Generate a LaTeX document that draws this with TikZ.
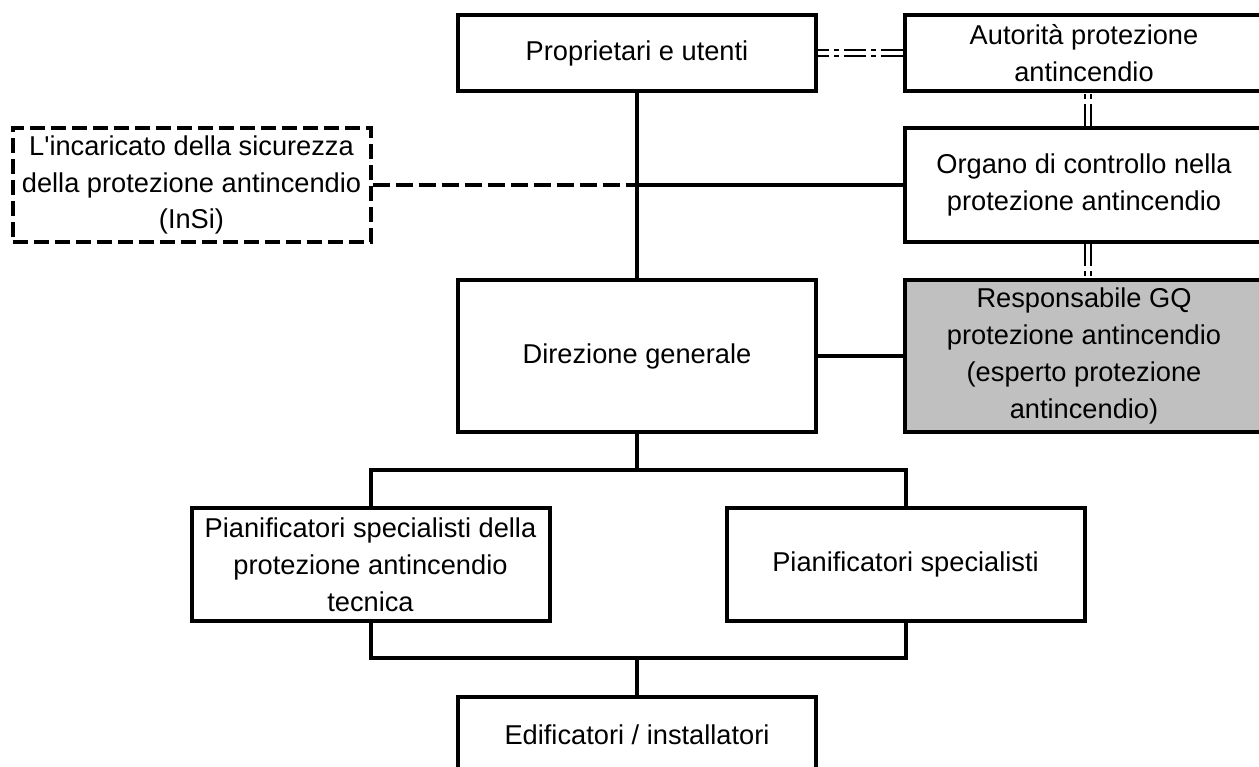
\documentclass[tikz,border=0pt]{standalone}
\usepackage{fontspec}
\setmainfont{Liberation Sans}
\usepackage{tikz}
\definecolor{qmgray}{RGB}{192,192,192}
\tikzset{
  box/.style={draw, line width=0.08cm, minimum width=7.16cm, inner sep=0pt,
    align=center, font=\fontsize{15.5pt}{21pt}\selectfont},
  dashbox/.style={box, dash pattern=on 0.3cm off 0.12cm},
  link/.style={line width=0.08cm},
  dashlink/.style={link, dash pattern=on 0.34cm off 0.12cm},
  dbllink/.style={double, double distance=0.07cm, line width=0.05cm,
    dash pattern=on 0.44cm off 0.1cm on 0.1cm off 0.1cm}
}

\begin{document}
\begin{tikzpicture}
    \clip (0,0) rectangle (25.18,-15.34);
    \node[box, minimum height=1.52cm] (prop) at (12.74,-1.06) {Proprietari e utenti};
    \node[box, minimum height=1.52cm] (auto) at (21.68,-1.06) {Autorità protezione\\antincendio};
    \node[box, minimum height=2.28cm] (organo) at (21.68,-3.70) {Organo di controllo nella\\protezione antincendio};
    \node[dashbox, minimum height=2.28cm] (insi) at (3.83,-3.70) {L\textquotesingle incaricato della sicurezza\\della protezione antincendio\\(InSi)};
    \node[box, minimum height=3.04cm] (direz) at (12.74,-7.12) {Direzione generale};
    \node[box, fill=qmgray, minimum height=3.04cm] (resp) at (21.68,-7.12) {Responsabile GQ\\protezione antincendio\\(esperto protezione\\antincendio)};
    \node[box, minimum height=2.26cm] (pianA) at (7.41,-11.29) {Pianificatori specialisti della\\protezione antincendio\\tecnica};
    \node[box, minimum height=2.26cm] (pianB) at (18.11,-11.29) {Pianificatori specialisti};
    \node[box, minimum height=1.52cm] (edif) at (12.74,-14.70) {Edificatori / installatori};
    \coordinate (mid) at (12.74,-3.70);
    \coordinate (split) at (12.74,-9.40);
    \coordinate (join) at (12.74,-13.16);
    \draw[link] (prop) to (direz);
    \draw[link] (organo.west) to (mid);
    \draw[dashlink] (insi.east) to (mid);
    \draw[link] (direz.east) to (resp.west);
    \draw[link] (direz) to (split);
    \draw[link] (pianA.north) |- (split) -| (pianB.north);
    \draw[link] (pianA.south) |- (join) -| (pianB.south);
    \draw[link] (join) to (edif);
    \draw[dbllink] (auto.west) to (prop.east);
    \draw[dbllink] ([xshift=0.08cm]organo.north) to ([xshift=0.08cm]auto.south);
    \draw[dbllink] ([xshift=0.08cm]organo.south) to ([xshift=0.08cm]resp.north);
\end{tikzpicture}
\end{document}
